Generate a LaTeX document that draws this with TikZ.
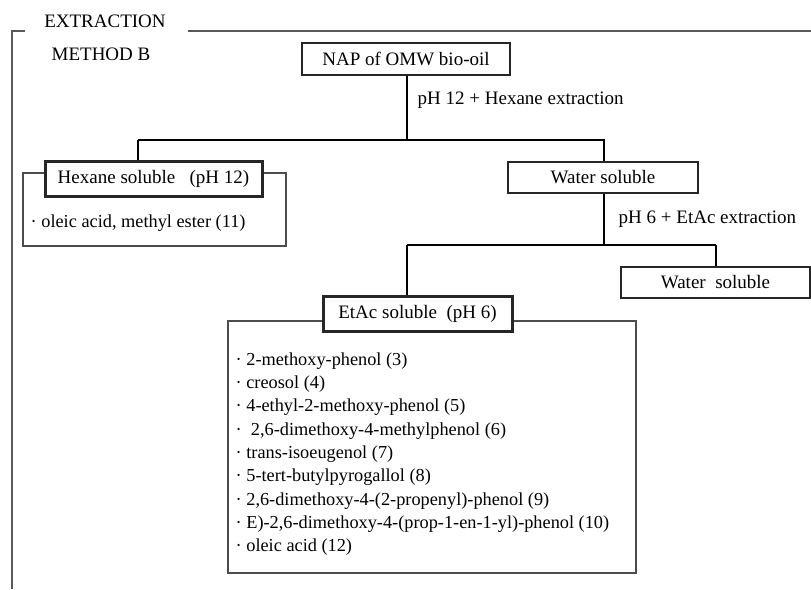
\documentclass[tikz,border=0pt]{standalone}
\usepackage{fontspec}
\setmainfont{Liberation Serif}
\usetikzlibrary{positioning}

\begin{document}
\begin{tikzpicture}[x=1pt, y=-1pt, line width=1.4pt,
    box/.style={draw=black!85, fill=white, inner sep=0pt, font=\fontsize{19}{22}\selectfont},
    boldbox/.style={box, line width=3pt},
    listbox/.style={draw=black!70, line width=1.3pt},
    note/.style={inner sep=0pt, font=\fontsize{19}{22}\selectfont},
    item/.style={inner sep=0pt, anchor=west, font=\fontsize{18.3}{22}\selectfont}]
  \useasboundingbox (0,0) rectangle (811,589);

  % Frame
  \draw[black!65, line width=1.6pt] (25,31) -- (12,31) -- (12,589);
  \draw[black!65, line width=1.6pt] (188,31) -- (811,31);
  \node[note] (title) at (105,21) {EXTRACTION};
  \node[note] (method) at (101,54) {METHOD B};

  % Start
  \node[box, minimum width=208, minimum height=32] (nap) at (406,59) {NAP of OMW bio-oil};
  \coordinate (split1) at (407,140);
  \node[note, anchor=west] (step1) at (417,100) {pH 12 + Hexane extraction};

  % Hexane phase
  \draw[listbox] (23,173) rectangle (286,246);
  \node[boldbox, minimum width=217, minimum height=35] (hex) at (153.5,178.5) {Hexane soluble\enspace\ (pH 12)};
  \node[item] (hexlist) at (30,223) {· oleic acid, methyl ester (11)};

  % Water phase
  \node[box, minimum width=190, minimum height=31] (water) at (603,177.5) {Water soluble};
  \coordinate (split2) at (604,245);
  \node[note, anchor=west] (step2) at (618,219) {pH 6 + EtAc extraction};
  \node[box, minimum width=189, minimum height=31] (water2) at (715.5,282.5) {Water\enspace soluble};

  % EtAc phase
  \draw[listbox] (228,321) rectangle (636,573);
  \node[boldbox, minimum width=189, minimum height=35] (etac) at (417.5,313.5) {EtAc soluble\enspace (pH 6)};
  \node[item] (l3) at (235,361) {· 2-methoxy-phenol (3)};
  \node[item] (l4) at (235,384) {· creosol (4)};
  \node[item] (l5) at (235,407) {· 4-ethyl-2-methoxy-phenol (5)};
  \node[item] (l6) at (235,431) {·\enspace 2,6-dimethoxy-4-methylphenol (6)};
  \node[item] (l7) at (235,454) {· trans-isoeugenol (7)};
  \node[item] (l8) at (235,477) {· 5-tert-butylpyrogallol (8)};
  \node[item] (l9) at (235,501) {· 2,6-dimethoxy-4-(2-propenyl)-phenol (9)};
  \node[item] (l10) at (235,524) {· E)-2,6-dimethoxy-4-(prop-1-en-1-yl)-phenol (10)};
  \node[item] (l12) at (235,547) {· oleic acid (12)};

  % Connectors
  \draw (nap.south -| split1) -- (split1);
  \draw (138,140 |- split1) -- (split1) -| (water.north -| split2);
  \draw (split1 -| 138,0) -- (138,0 |- hex.north);
  \draw (water.south -| split2) -- (split2);
  \draw (407,0 |- split2) -- (716,0 |- split2);
  \draw (407,0 |- split2) -- (407,0 |- etac.north);
  \draw (716,0 |- split2) -- (716,0 |- water2.north);
\end{tikzpicture}
\end{document}
